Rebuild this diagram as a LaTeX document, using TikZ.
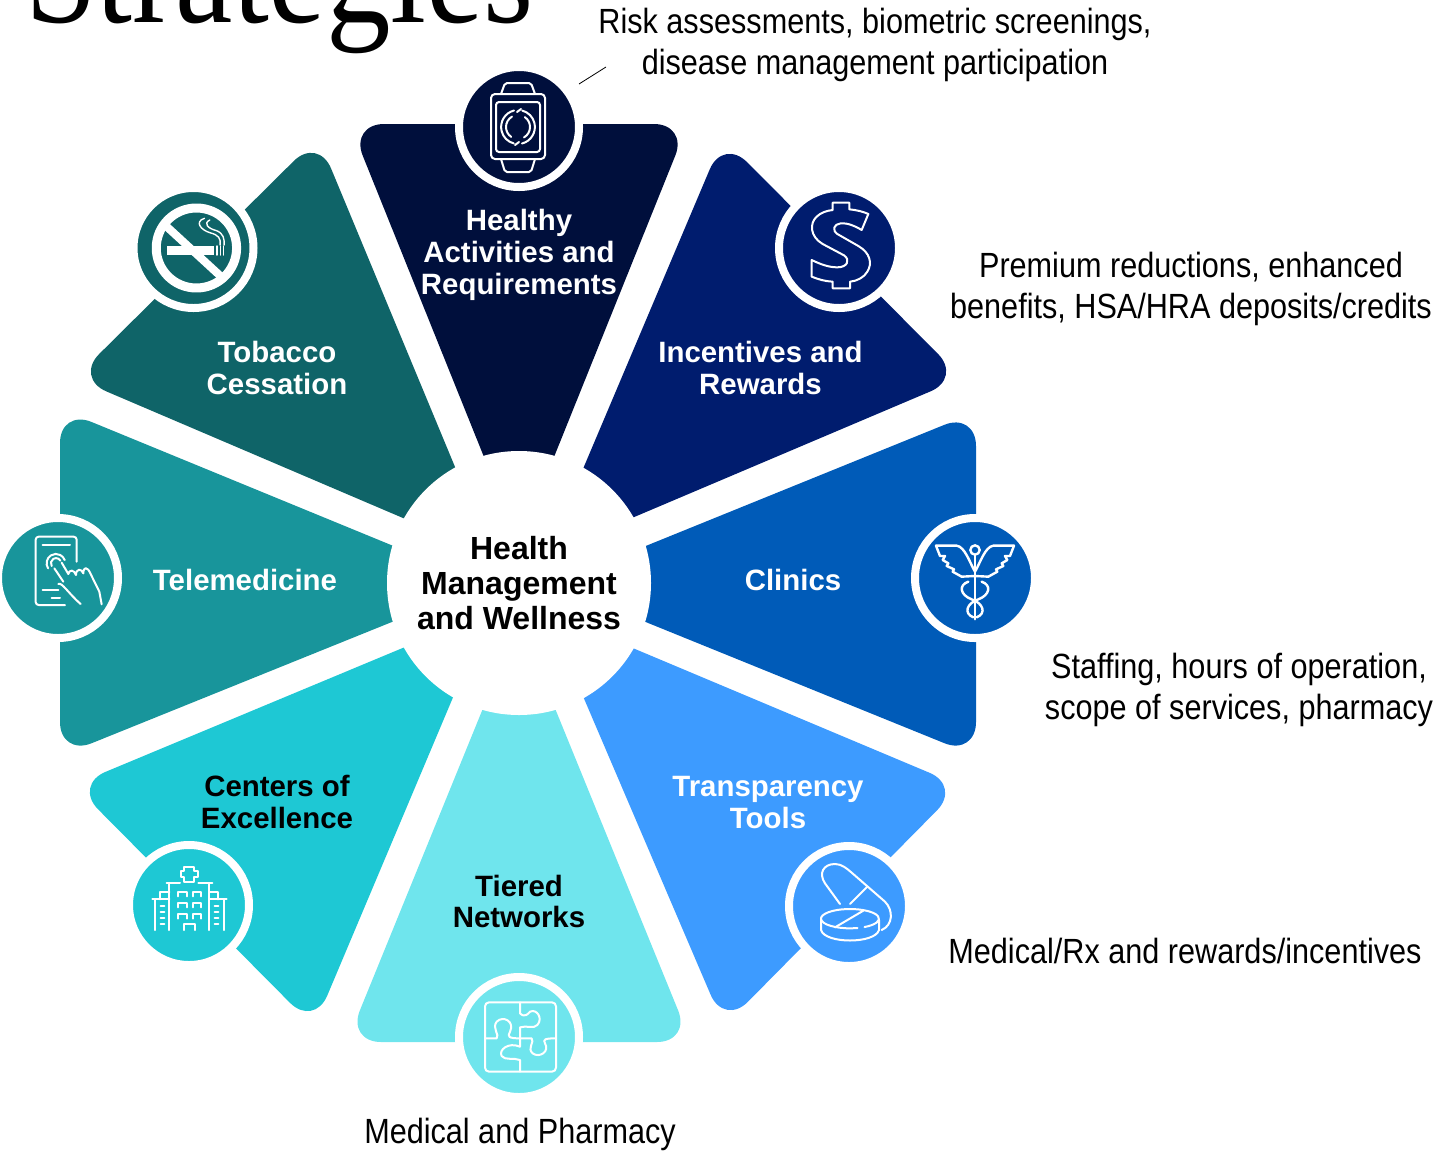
\documentclass[tikz,border=0pt]{standalone}
\usepackage{fontspec}
\setmainfont{Liberation Sans}
\newfontfamily\titlefont[FakeStretch=0.89]{Liberation Serif}
\newfontfamily\notefont[FakeStretch=0.875]{Liberation Sans}
\definecolor{healthycol}{HTML}{000F3C}
\definecolor{rewardcol}{HTML}{001C6E}
\definecolor{cliniccol}{HTML}{005BB8}
\definecolor{toolcol}{HTML}{3D9BFF}
\definecolor{tiercol}{HTML}{6FE5ED}
\definecolor{excelcol}{HTML}{1EC8D4}
\definecolor{telecol}{HTML}{18959B}
\definecolor{tobaccocol}{HTML}{0F6468}
\tikzset{
  petal/.style={rounded corners=34pt},
  iconring/.style={circle, draw=white, line width=8pt, inner sep=0pt, outer sep=0pt, minimum size=120pt},
  iconline/.style={draw=white, line width=2pt, line cap=round, line join=round},
  petallabel/.style={font=\fontsize{29.4}{32}\selectfont\bfseries, align=center, inner sep=0pt},
  hublabel/.style={font=\fontsize{32}{35}\selectfont\bfseries, align=center, inner sep=0pt},
  notelabel/.style={font=\fontsize{35}{41}\notefont, align=center, inner sep=0pt},
}
\begin{document}
\begin{tikzpicture}[x=1pt, y=-1pt]
  \useasboundingbox (0,0) rectangle (1435,1152);
  \clip (0,0) rectangle (1435,1152);

  \node[anchor=base west, inner sep=0pt, font=\fontsize{145}{145}\titlefont] (title) at (25,22) {Strategies};

  % petals, clockwise from the top
  \fill[petal, healthycol] (519,544) -- (350,124) -- (688,124) -- cycle;
  \fill[petal, rewardcol] (547,554) -- (723,138) -- (962,378) -- cycle;
  \fill[petal, cliniccol] (552,584) -- (976,412) -- (976,756) -- cycle;
  \fill[petal, toolcol] (547,612) -- (961,786) -- (724,1026) -- cycle;
  \fill[petal, tiercol] (519,620) -- (691,1042) -- (347,1042) -- cycle;
  \fill[petal, excelcol] (489,612) -- (314,1027) -- (74,785) -- cycle;
  \fill[petal, telecol] (486,584) -- (60,756) -- (60,409) -- cycle;
  \fill[petal, tobaccocol] (492,556) -- (75,378) -- (318,137) -- cycle;

  \node[circle, fill=white, inner sep=0pt, minimum size=264pt] (hub) at (519,583) {};

  \node[iconring, fill=healthycol] (healthyicon) at (519,127) {};
  \node[iconring, fill=rewardcol] (rewardicon) at (839,248) {};
  \node[iconring, fill=cliniccol] (clinicicon) at (975,578) {};
  \node[iconring, fill=toolcol] (toolicon) at (849,906) {};
  \node[iconring, fill=tiercol] (tiericon) at (519,1037) {};
  \node[iconring, fill=excelcol] (excelicon) at (189,905) {};
  \node[iconring, fill=telecol] (teleicon) at (58,578) {};
  \node[iconring, fill=tobaccocol] (tobaccoicon) at (193.5,248) {};

  % watch
  \begin{scope}[shift={(518,127)}, iconline]
    \draw[rounded corners=4pt] (-27,-33) rectangle (27,32);
    \draw[rounded corners=3pt] (-22,-25) rectangle (22,25);
    \draw[rounded corners=2pt] (-17,-33) -- (-13,-44) -- (13,-44) -- (17,-33);
    \draw[rounded corners=2pt] (-17,32) -- (-13,45) -- (13,45) -- (17,32);
    \draw (-4,-16.5) arc (256:105:17);
    \draw (-6,-10.4) arc (240:125:12);
    \draw (4,16.5) arc (76:-75:17);
    \draw (6,10.4) arc (60:-55:12);
    \draw (-1,-15) -- (3,-18) (1,15) -- (-3,18);
  \end{scope}

  % dollar
  \begin{scope}[shift={(760,180)}, scale=1/3, iconline]
    \draw (218,90) -- (218,68) -- (268,68) -- (268,88) .. controls (290,90) and (310,95) .. (325,102)
      -- (305,150) .. controls (285,138) and (262,128) .. (242,130) .. controls (222,132) and (215,150) .. (232,162)
      -- (295,198) .. controls (330,218) and (338,250) .. (322,275) .. controls (312,292) and (292,303) .. (270,305)
      -- (270,325) -- (218,325) -- (218,305) .. controls (195,304) and (175,298) .. (155,290)
      -- (155,240) .. controls (180,252) and (205,262) .. (232,262) .. controls (262,262) and (272,240) .. (252,226)
      -- (188,192) .. controls (150,170) and (148,130) .. (170,110) .. controls (182,98) and (200,92) .. (218,90) -- cycle;
  \end{scope}

  % caduceus
  \begin{scope}[shift={(760,180)}, scale=1/3, iconline, line width=2.4pt]
    \foreach \wing in {1,-1}{
      \begin{scope}[shift={(645,0)}, xscale=\wing]
        \draw (-117,1097) -- (-55,1097) .. controls (-30,1100) and (-15,1150) .. (0,1175);
        \draw (-117,1097) -- (-105,1128) -- (-90,1128) -- (-97,1140) -- (-80,1150) -- (-85,1158)
          -- (-63,1168) -- (-67,1175) -- (-40,1190) -- (0,1188);
        \draw (-20,1205) .. controls (-50,1215) and (-45,1245) .. (-10,1258) .. controls (25,1270) and (35,1300) .. (5,1312);
      \end{scope}
    }
    \draw (645,1125) -- (645,1318);
    \draw (645,1110) circle (14);
  \end{scope}

  % capsule and tablet
  \begin{scope}[shift={(780,840)}, scale=1/3, iconline]
    \draw (180,192) -- (135,130) .. controls (115,100) and (130,72) .. (165,72) .. controls (185,72) and (200,85) .. (215,98)
      -- (315,185) .. controls (340,210) and (340,255) .. (305,270);
    \draw (262,140) -- (210,192);
    \draw (232.5,264) arc (75:420:87 and 29);
    \draw (165,262) -- (250,212);
    \draw (123,240) -- (123,270) .. controls (135,312) and (285,312) .. (297,270) -- (297,240);
  \end{scope}

  % puzzle
  \begin{scope}[shift={(450,970)}, scale=1/3, iconline]
    \draw[rounded corners=4pt] (105,97) rectangle (318,305);
    \draw (210,97) -- (210,130) .. controls (225,145) and (235,130) .. (240,125) .. controls (260,115) and (280,145) .. (262,165) .. controls (250,178) and (230,165) .. (210,172) -- (210,230);
    \draw (105,205) -- (140,205) .. controls (150,195) and (125,175) .. (140,155) .. controls (160,135) and (195,155) .. (180,185) .. controls (172,200) and (175,205) .. (210,205) -- (245,205)
      .. controls (255,215) and (230,235) .. (248,250) .. controls (268,265) and (300,245) .. (285,220) .. controls (278,208) and (285,205) .. (318,205);
    \draw (210,230) .. controls (175,215) and (145,240) .. (155,258) .. controls (165,272) and (190,262) .. (210,270) -- (210,305);
  \end{scope}

  % hospital
  \begin{scope}[shift={(120,840)}, scale=1/3, iconline]
    \draw (193,80) -- (221,80) -- (221,92) -- (235,92) -- (235,112) -- (221,112) -- (221,125) -- (193,125) -- (193,112) -- (182,112) -- (182,92) -- (193,92) -- cycle;
    \draw (148,270) -- (148,130) (140,128) -- (180,128) (235,128) -- (277,128) (268,130) -- (268,270);
    \draw (105,270) -- (105,180) (97,178) -- (148,178) (120,178) -- (120,155) -- (148,155);
    \draw (313,270) -- (313,180) (320,178) -- (268,178) (295,178) -- (295,155) -- (268,155);
    \draw (193,270) -- (193,252) -- (225,252) -- (225,270);
    \foreach \winy in {155,188,222}{
      \draw (174,\winy+14) -- (174,\winy) -- (200,\winy) -- (200,\winy+14);
      \draw (218,\winy+14) -- (218,\winy) -- (244,\winy) -- (244,\winy+14);
    }
    \foreach \winy in {198,216,235,253}{
      \draw (122,\winy) -- (133,\winy);
      \draw (284,\winy) -- (295,\winy);
    }
  \end{scope}

  % phone and hand
  \begin{scope}[shift={(0,500)}, scale=1/3, iconline]
    \draw[rounded corners=3pt] (230,185) -- (230,110) -- (107,110) -- (107,315) -- (195,315);
    \draw (128,135) -- (210,135) (128,270) -- (175,270) (155,293) -- (180,293);
    \draw (144.3,205) arc (147:340:28);
    \draw (155,198) arc (148:330:15.5);
    \draw (163,205) -- (190,245) (175,252) .. controls (185,245) and (205,280) .. (242,312);
    \draw (185,188) -- (205,222) .. controls (208,208) and (222,208) .. (228,225) .. controls (228,205) and (245,205) .. (250,220) .. controls (250,200) and (262,198) .. (272,222) -- (298,275) -- (305,313);
  \end{scope}

  % no smoking
  \begin{scope}[xscale=1/2.24, yscale=1/3, iconline]
    \draw[line width=9pt] (440,744) ellipse (90 and 120);
    \fill[white] (375,738) rectangle (480,765);
    \draw[line width=1.5pt] (486,738) -- (486,765) (494,738) -- (494,765) (501,738) -- (501,765);
    \draw[line width=8pt, line cap=butt] (372,678) -- (497,832);
    \draw[line width=1.4pt] (458,655) .. controls (435,665) and (450,690) .. (470,698) .. controls (490,705) and (495,715) .. (493,735);
    \draw[line width=1.4pt] (470,660) .. controls (455,670) and (465,685) .. (485,692) .. controls (500,700) and (503,715) .. (502,735);
  \end{scope}

  \node[petallabel, white] (healthytext) at (519,255) {Healthy\\Activities and\\Requirements};
  \node[petallabel, white] (rewardtext) at (760.5,368) {Incentives and\\Rewards};
  \node[petallabel, white] (clinictext) at (793,580) {Clinics};
  \node[petallabel, white] (tooltext) at (768,803) {Transparency\\Tools};
  \node[petallabel, black] (tiertext) at (519,901.5) {Tiered\\[-1pt]Networks};
  \node[petallabel, black] (exceltext) at (277,802) {Centers of\\Excellence};
  \node[petallabel, white] (teletext) at (245,580) {Telemedicine};
  \node[petallabel, white] (tobaccotext) at (277,368) {Tobacco\\Cessation};
  \node[hublabel] (hubtext) at (519,583) {Health\\Management\\and Wellness};

  \node[notelabel] (healthynote) at (875,45) {Risk assessments, biometric screenings,\\disease management participation};
  \node[notelabel] (rewardnote) at (1191,289) {Premium reductions, enhanced\\benefits, HSA/HRA deposits/credits};
  \node[notelabel] (clinicnote) at (1239,690) {Staffing, hours of operation,\\scope of services, pharmacy};
  \node[notelabel] (toolnote) at (1185,951) {Medical/Rx and rewards/incentives};
  \node[notelabel] (tiernote) at (520,1134) {Medical and Pharmacy};

  \coordinate (leaderstart) at (579,84);
  \coordinate (leaderend) at (606,67);
  \draw[line width=0.8pt] (leaderstart) -- (leaderend);
\end{tikzpicture}
\end{document}
